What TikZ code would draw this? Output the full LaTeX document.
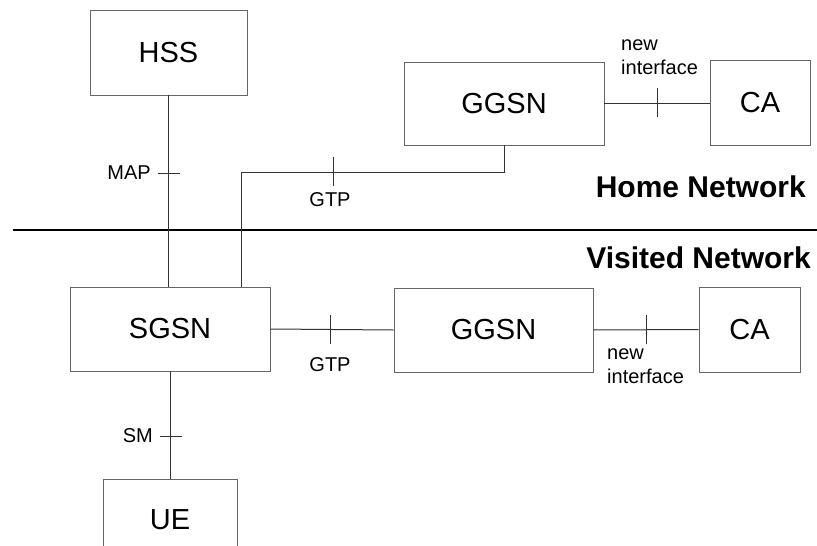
\documentclass[tikz,border=0pt]{standalone}
\usepackage{fontspec}
\setmainfont{Liberation Sans}
\begin{document}
\begin{tikzpicture}[x=1pt,y=1pt,
  entity/.style={draw=black!60, line width=0.9pt, fill=white, inner sep=0pt,
    font=\fontsize{29}{32}\selectfont},
  link/.style={draw=black!80, line width=1pt},
  tick/.style={draw=black!80, line width=1pt},
  iface/.style={font=\fontsize{20}{23}\selectfont, inner sep=0pt},
  twoline/.style={iface, align=left, font=\fontsize{20}{24}\selectfont},
  region/.style={font=\bfseries\fontsize{30}{33}\selectfont, inner sep=0pt}]
\useasboundingbox (0,0) rectangle (817,-546);
\clip (0,0) rectangle (817,-546);

% network elements
\node[entity, minimum width=157, minimum height=85] (hss)  at (168.5,-52.5) {HSS};
\node[entity, minimum width=200, minimum height=83] (ggh)  at (504,-103.5) {GGSN};
\node[entity, minimum width=100, minimum height=85] (cah)  at (760,-102.5) {CA};
\node[entity, minimum width=200, minimum height=84] (sgsn) at (170,-329) {SGSN};
\node[entity, minimum width=199, minimum height=84] (ggv)  at (493.5,-330) {GGSN};
\node[entity, minimum width=101, minimum height=85] (cav)  at (749.5,-329.5) {CA};
\node[entity, minimum width=134, minimum height=84] (ue) at (170,-521) {};
\node[font=\fontsize{29}{32}\selectfont, inner sep=0pt] (uetext) at (170,-520) {UE};

% home / visited border
\coordinate (borderL) at (13,-230);
\coordinate (borderR) at (817,-230);
\draw[line width=1.6pt] (borderL) -- (borderR);
\node[region, anchor=east] (home) at (806,-187) {Home Network};
\node[region, anchor=east] (visited) at (811,-258) {Visited Network};

% HSS -- SGSN (MAP)
\draw[link] (hss.south) -- (hss.south |- sgsn.north);
\coordinate (mapt) at (168.5,-173);
\draw[tick] ([xshift=-11]mapt) -- ([xshift=11]mapt);
\node[iface, anchor=east] (maplbl) at (151,-173) {MAP};

% home GGSN -- SGSN (GTP)
\coordinate (gtpturn) at (241,-172);
\draw[link] (ggh.south) |- (gtpturn) -- (gtpturn |- sgsn.north);
\coordinate (gtpht) at (333,-172);
\draw[tick] ([yshift=15]gtpht) -- ([yshift=-14]gtpht);
\node[iface] (gtphlbl) at (330,-200) {GTP};

% home GGSN -- CA
\draw[link] (ggh.east) -- (cah.west |- ggh.east);
\coordinate (nih) at (657,-103);
\draw[tick] ([yshift=15]nih) -- ([yshift=-14]nih);
\node[twoline, anchor=north west] (nihlbl) at (621,-40) {new\\interface};

% SGSN -- visited GGSN (GTP)
\draw[link] (sgsn.east) -- (ggv.west);
\coordinate (gtpvt) at (330,-330);
\draw[tick] ([yshift=15]gtpvt) -- ([yshift=-14]gtpvt);
\node[iface] (gtpvlbl) at (330,-365) {GTP};

% visited GGSN -- CA
\draw[link] (ggv.east) -- (cav.west);
\coordinate (niv) at (646,-330);
\draw[tick] ([yshift=15]niv) -- ([yshift=-14]niv);
\node[twoline, anchor=north west] (nivlbl) at (607,-349) {new\\interface};

% SGSN -- UE (SM)
\draw[link] (sgsn.south) -- (ue.north);
\coordinate (smt) at (170.5,-436);
\draw[tick] ([xshift=-11]smt) -- ([xshift=11]smt);
\node[iface, anchor=east] (smlbl) at (153,-436) {SM};
\end{tikzpicture}
\end{document}
